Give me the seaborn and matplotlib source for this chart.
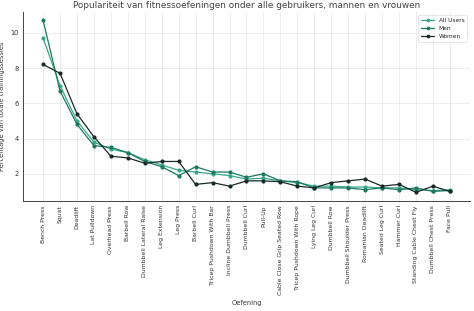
import pandas as pd
import seaborn as sns
import matplotlib.pyplot as plt

exercises = ["Bench Press", "Squat", "Deadlift", "Lat Pulldown", "Overhead Press",
             "Barbell Row", "Dumbbell Lateral Raise", "Leg Extension", "Leg Press",
             "Barbell Curl", "Tricep Pushdown With Bar", "Incline Dumbbell Press",
             "Dumbbell Curl", "Pull-Up", "Cable Close Grip Seated Row",
             "Tricep Pushdown With Rope", "Lying Leg Curl", "Dumbbell Row",
             "Dumbbell Shoulder Press", "Romanian Deadlift", "Seated Leg Curl",
             "Hammer Curl", "Standing Cable Chest Fly", "Dumbbell Chest Press", "Face Pull"]

all_users = [9.7, 7.0, 5.0, 3.8, 3.4, 3.2, 2.8, 2.5, 2.2, 2.1, 2.0, 1.9, 1.7, 1.75,
             1.6, 1.5, 1.3, 1.3, 1.25, 1.25, 1.2, 1.2, 1.1, 1.05, 1.1]
men = [10.7, 6.7, 4.8, 3.6, 3.5, 3.2, 2.7, 2.4, 1.9, 2.4, 2.1, 2.1, 1.8, 2.0,
       1.6, 1.55, 1.2, 1.2, 1.2, 1.1, 1.2, 1.1, 1.2, 1.0, 1.05]
women = [8.2, 7.7, 5.4, 4.1, 3.0, 2.9, 2.6, 2.7, 2.7, 1.4, 1.5, 1.3, 1.6, 1.6,
         1.55, 1.3, 1.2, 1.5, 1.6, 1.7, 1.3, 1.4, 0.95, 1.3, 1.0]

groups = ["All Users", "Men", "Women"]
colors = ["#38a88c", "#1b7a5e", "#1a2b27"]

df = pd.concat([
    pd.DataFrame({"Oefening": exercises, "Pct": all_users, "Groep": "All Users"}),
    pd.DataFrame({"Oefening": exercises, "Pct": men, "Groep": "Men"}),
    pd.DataFrame({"Oefening": exercises, "Pct": women, "Groep": "Women"}),
])

sns.set_style("whitegrid")
fig, ax = plt.subplots(figsize=(4.74, 3.11), dpi=100)
sns.lineplot(data=df, x="Oefening", y="Pct", hue="Groep", hue_order=groups,
             palette=colors, marker="o", markersize=3, markeredgewidth=0,
             linewidth=0.9, sort=False, ax=ax)

ax.set_title("Populariteit van fitnessoefeningen onder alle gebruikers, mannen en vrouwen",
             fontsize=6.4, color="#444444", pad=3)
ax.set_xlabel("Oefening", fontsize=4.8, color="#333333")
ax.set_ylabel("Percentage van totale trainingssessies", fontsize=4.8, color="#333333")
ax.tick_params(axis="x", labelrotation=90, labelsize=4.4, length=2, width=0.5, pad=1, colors="#333333")
ax.tick_params(axis="y", labelsize=4.8, length=2, width=0.5, pad=1, colors="#333333")
ax.set_yticks([2, 4, 6, 8, 10])
ax.grid(color="#e6e6e6", linewidth=0.5)
for s in ["top", "right"]:
    ax.spines[s].set_visible(False)
for s in ["left", "bottom"]:
    ax.spines[s].set_color("#444444")
    ax.spines[s].set_linewidth(0.7)
leg = ax.legend(loc="upper right", fontsize=4.2, title=None, frameon=True,
                markerscale=0.9, handlelength=2.2, borderpad=0.5, labelspacing=0.5)
leg.get_frame().set_linewidth(0.4)
plt.subplots_adjust(left=0.048, right=0.992, top=0.962, bottom=0.354)
fig.savefig("out.png", dpi=100)
